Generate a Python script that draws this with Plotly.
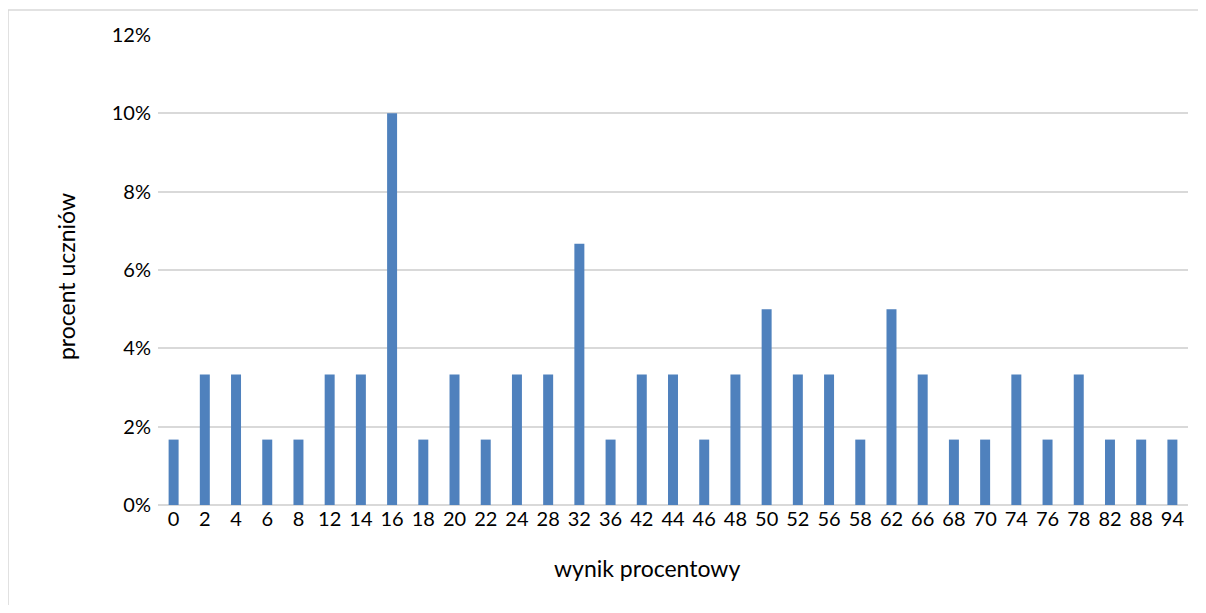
import plotly.graph_objects as go

categories = ["0", "2", "4", "6", "8", "12", "14", "16", "18", "20", "22", "24", "28", "32", "36",
              "42", "44", "46", "48", "50", "52", "56", "58", "62", "66", "68", "70", "74", "76",
              "78", "82", "88", "94"]
values = [1.67, 3.33, 3.33, 1.67, 1.67, 3.33, 3.33, 10.0, 1.67, 3.33, 1.67, 3.33, 3.33, 6.67, 1.67,
          3.33, 3.33, 1.67, 3.33, 5.0, 3.33, 3.33, 1.67, 5.0, 3.33, 1.67, 1.67, 3.33, 1.67,
          3.33, 1.67, 1.67, 1.67]
y_ticks = [0, 2, 4, 6, 8, 10, 12]
y_labels = ["0%", "2%", "4%", "6%", "8%", "10%", "12%"]
x_title = "wynik procentowy"
y_title = "procent uczniów"

font_family = "Lato, 'Liberation Sans', sans-serif"

fig = go.Figure(go.Bar(x=categories, y=values, marker=dict(color="#4F81BD", line=dict(width=0)),
                       width=0.32))

fig.update_layout(
    width=1198, height=597,
    margin=dict(l=150, r=18, t=27, b=100),
    paper_bgcolor="white", plot_bgcolor="white",
    font=dict(family=font_family, size=20, color="#000000"),
    showlegend=False,
    xaxis=dict(type="category", showgrid=False, showline=False, ticks="",
               tickfont=dict(size=20), ticklabelstandoff=0),
    yaxis=dict(range=[0, 12], tickvals=y_ticks, ticktext=y_labels, showgrid=True,
               gridcolor="#D9D9D9", gridwidth=1.5, zeroline=True, zerolinecolor="#D9D9D9",
               zerolinewidth=1.5, showline=False, ticks="", tickfont=dict(size=20),
               ticklabelstandoff=6),
    annotations=[
        dict(text=x_title, xref="paper", yref="paper", x=0.4748, y=-0.134,
             xanchor="center", yanchor="middle", showarrow=False, font=dict(size=23)),
        dict(text=y_title, xref="paper", yref="paper", x=-0.0893, y=0.485, textangle=-90,
             xanchor="center", yanchor="middle", showarrow=False, font=dict(size=23)),
    ],
    shapes=[dict(type="rect", xref="paper", yref="paper", x0=-0.1456, x1=1.0146,
                 y0=-0.25, y1=1.0532, line=dict(color="#D9D9D9", width=1.5), layer="below")],
)

fig.write_html("out.html")
